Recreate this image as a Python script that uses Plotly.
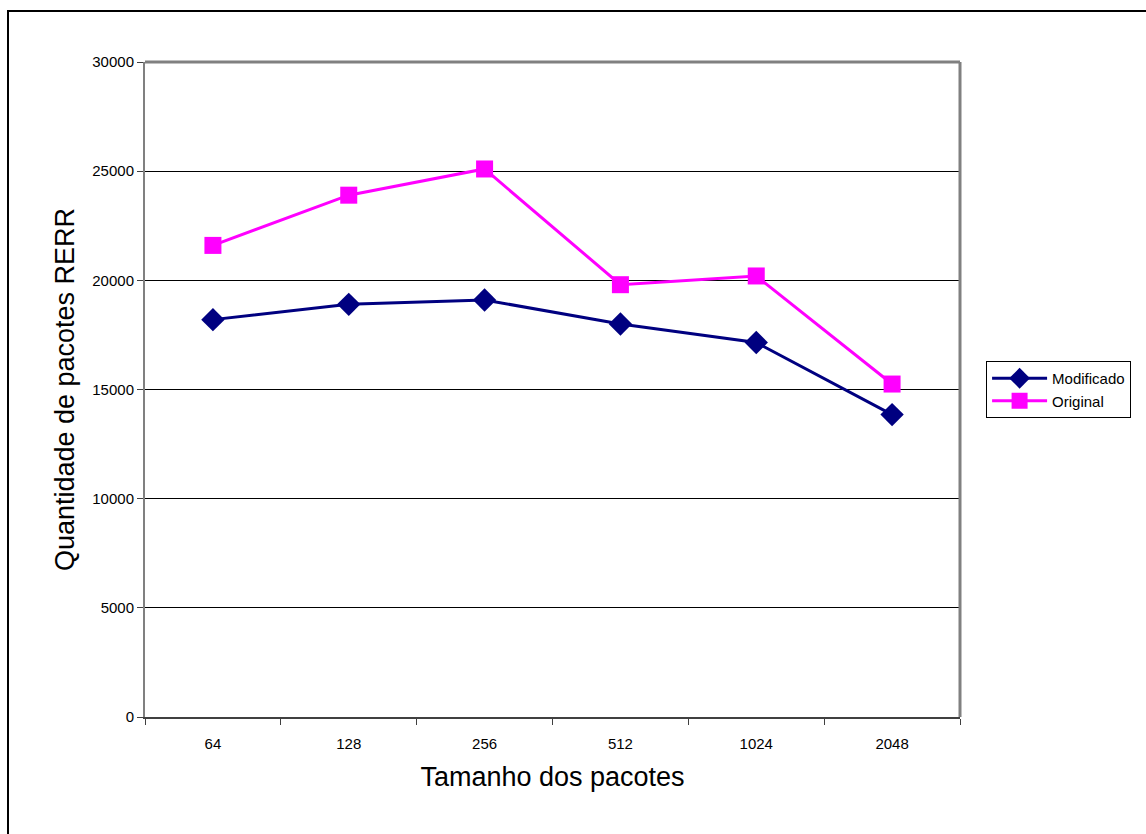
import plotly.graph_objects as go

# Packet sizes (bytes) and RERR packet counts per variant
tamanhos = ["64", "128", "256", "512", "1024", "2048"]
modificado = [18200, 18900, 19100, 18000, 17150, 13850]
original = [21600, 23900, 25100, 19800, 20200, 15250]

y_ticks = [0, 5000, 10000, 15000, 20000, 25000, 30000]
y_tick_labels = [str(v) for v in y_ticks]

FONT = "Liberation Sans, Arial, sans-serif"

fig = go.Figure()

fig.add_trace(go.Scatter(
    x=tamanhos, y=modificado, name="Modificado", mode="lines+markers",
    line=dict(color="#000080", width=3),
    marker=dict(symbol="diamond", size=18, color="#000080"),
))
fig.add_trace(go.Scatter(
    x=tamanhos, y=original, name="Original", mode="lines+markers",
    line=dict(color="#FF00FF", width=3),
    marker=dict(symbol="square", size=17, color="#FF00FF"),
))

fig.update_layout(
    width=1146, height=834,
    margin=dict(l=145, r=186, t=62, b=117),
    paper_bgcolor="white", plot_bgcolor="white",
    font=dict(family=FONT, color="black", size=15),
    showlegend=True,
    legend=dict(
        x=1.032, y=0.50, xanchor="left", yanchor="middle",
        bordercolor="black", borderwidth=1, bgcolor="white",
        font=dict(size=15, family=FONT), tracegroupgap=2,
        itemwidth=55,
    ),
    xaxis=dict(
        type="category", tickson="boundaries",
        ticks="outside", ticklen=6, tickcolor="#404040",
        showline=True, linecolor="#404040", linewidth=2,
        showgrid=False, tickfont=dict(size=15),
        ticklabelstandoff=12,
        title=dict(text="Tamanho dos pacotes", font=dict(size=27), standoff=16),
        range=[-0.5, 5.5],
    ),
    yaxis=dict(
        range=[0, 30000], tickvals=y_ticks, ticktext=y_tick_labels,
        ticks="outside", ticklen=6, tickcolor="#404040",
        showline=True, linecolor="#808080", linewidth=2,
        showgrid=True, gridcolor="black", gridwidth=1,
        zeroline=False, tickfont=dict(size=15),
        title=dict(text="Quantidade de pacotes RERR", font=dict(size=27), standoff=10),
    ),
    shapes=[
        # grey frame of the plot area (top and right edges)
        dict(type="line", xref="paper", yref="paper", x0=0, x1=1, y0=1, y1=1,
             line=dict(color="#808080", width=3)),
        dict(type="line", xref="paper", yref="paper", x0=1, x1=1, y0=0, y1=1,
             line=dict(color="#808080", width=3)),
        # outer chart border
        dict(type="rect", xref="paper", yref="paper",
             x0=-137 / 815, x1=1.3, y0=-0.3, y1=(834 - 11 - 117) / 655,
             line=dict(color="black", width=2), layer="below"),
    ],
)

fig.write_html("out.html")
